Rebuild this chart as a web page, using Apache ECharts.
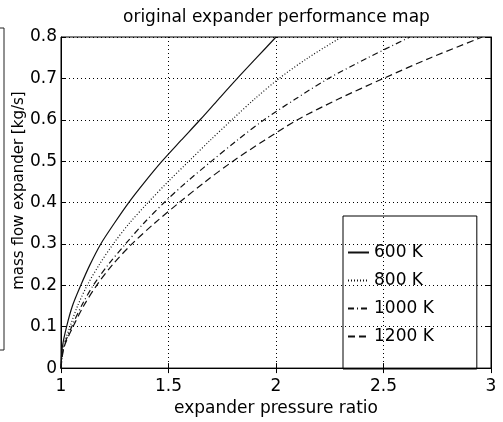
<!DOCTYPE html>
<html>
<head>
<meta charset="utf-8">
<title>original expander performance map</title>
<script src="https://cdn.jsdelivr.net/npm/echarts@6/dist/echarts.min.js"></script>
<style>
  html, body { margin: 0; padding: 0; background: #fff; }
  #chart { width: 503px; height: 422px; }
</style>
</head>
<body>
<div id="chart"></div>
<script>
// axis ticks
const xTicks = [1, 1.5, 2, 2.5, 3]
const yTicks = [0, 0.1, 0.2, 0.3, 0.4, 0.5, 0.6, 0.7, 0.8]

// legend names
const temperatures = ['600 K', '800 K', '1000 K', '1200 K']

// mass flow levels where the curves were read
const flowLevels = [0, 0.05, 0.1, 0.15, 0.2, 0.25, 0.3, 0.35, 0.4, 0.45, 0.5, 0.55, 0.6, 0.65, 0.7, 0.75, 0.8]

// pressure ratio of each curve at those levels
const ratio600 = [1, 1.006, 1.026, 1.053, 1.092, 1.135, 1.185, 1.248, 1.315, 1.39, 1.47, 1.558, 1.647, 1.733, 1.82, 1.91, 2.0]
const ratio800 = [1, 1.01, 1.042, 1.077, 1.122, 1.178, 1.243, 1.318, 1.405, 1.497, 1.595, 1.693, 1.795, 1.9, 2.015, 2.15, 2.305]
const ratio1000 = [1, 1.012, 1.05, 1.095, 1.15, 1.22, 1.3, 1.385, 1.48, 1.585, 1.7, 1.818, 1.945, 2.09, 2.245, 2.428, 2.623]
const ratio1200 = [1, 1.014, 1.056, 1.105, 1.166, 1.24, 1.33, 1.435, 1.55, 1.67, 1.8, 1.945, 2.1, 2.29, 2.5, 2.72, 2.96]

const FONT = 'DejaVu Sans'

function pairs(xs, ys) {
  return xs.map((x, i) => [x, ys[i]])
}

function curve(name, xs, type) {
  return {
    name: name,
    type: 'line',
    data: pairs(xs, flowLevels),
    symbol: 'none',
    smooth: 0.3,
    lineStyle: { color: '#111', width: 1.2, type: type },
    itemStyle: { color: '#111' },
  }
}

const chart = echarts.init(document.getElementById('chart'))

const frameAxis = {
  axisLine: { show: true, lineStyle: { color: '#000', width: 1 } },
  axisTick: { show: true, inside: true, length: 5, lineStyle: { color: '#000' } },
  axisLabel: { show: false },
  splitLine: { show: false },
}

chart.setOption({
  animation: false,
  backgroundColor: '#fff',
  title: {
    text: 'original expander performance map',
    left: 123,
    top: 9,
    padding: 0,
    textStyle: { fontFamily: FONT, fontSize: 17, fontWeight: 'normal', color: '#000' },
  },
  legend: {
    data: temperatures,
    orient: 'vertical',
    left: 343,
    top: 216,
    padding: [28, 43, 24, 4],
    itemWidth: 21,
    itemHeight: 14,
    itemGap: 11,
    borderColor: '#000',
    borderWidth: 1,
    itemStyle: { opacity: 0 },
    textStyle: { fontFamily: FONT, fontSize: 17, color: '#000' },
  },
  grid: {
    left: 61,
    right: 12,
    top: 37,
    bottom: 47,
    show: true,
    borderColor: '#000',
    borderWidth: 1,
  },
  xAxis: [
    {
      type: 'value',
      min: xTicks[0],
      max: xTicks[xTicks.length - 1],
      interval: 0.5,
      name: 'expander pressure ratio',
      nameLocation: 'middle',
      nameGap: 28,
      nameTextStyle: { fontFamily: FONT, fontSize: 17, color: '#000' },
      axisLine: { show: true, lineStyle: { color: '#000', width: 1 } },
      axisTick: { show: true, inside: true, length: 5, lineStyle: { color: '#000' } },
      axisLabel: { fontFamily: FONT, fontSize: 17, color: '#000', margin: 10 },
      splitLine: { show: true, lineStyle: { color: '#000', width: 1, type: [1, 3] } },
    },
    Object.assign({ type: 'value', position: 'top', min: 1, max: 3, interval: 0.5 }, frameAxis),
  ],
  yAxis: [
    {
      type: 'value',
      min: yTicks[0],
      max: yTicks[yTicks.length - 1],
      interval: 0.1,
      name: 'mass flow expander [kg/s]',
      nameLocation: 'middle',
      nameGap: 34,
      nameMoveOverlap: false,
      nameTextStyle: { fontFamily: FONT, fontSize: 15, color: '#000', padding: [0, 0, 0, 24] },
      axisLine: { show: true, lineStyle: { color: '#000', width: 1 } },
      axisTick: { show: true, inside: true, length: 5, lineStyle: { color: '#000' } },
      axisLabel: { fontFamily: FONT, fontSize: 17, color: '#000', margin: 4 },
      splitLine: { show: true, lineStyle: { color: '#000', width: 1, type: [1, 3] } },
    },
    Object.assign({ type: 'value', position: 'right', min: 0, max: 0.8, interval: 0.1 }, frameAxis),
  ],
  // edge of the neighbouring figure cut off at the left
  graphic: [
    {
      type: 'polyline',
      shape: { points: [[0, 28], [4, 28], [4, 350], [0, 350]] },
      style: { stroke: '#222', lineWidth: 1, fill: null },
    },
  ],
  series: [
    curve(temperatures[0], ratio600, 'solid'),
    curve(temperatures[1], ratio800, [1, 2]),
    curve(temperatures[2], ratio1000, [6, 3, 1, 3]),
    curve(temperatures[3], ratio1200, [7, 4]),
  ],
})
</script>
</body>
</html>
